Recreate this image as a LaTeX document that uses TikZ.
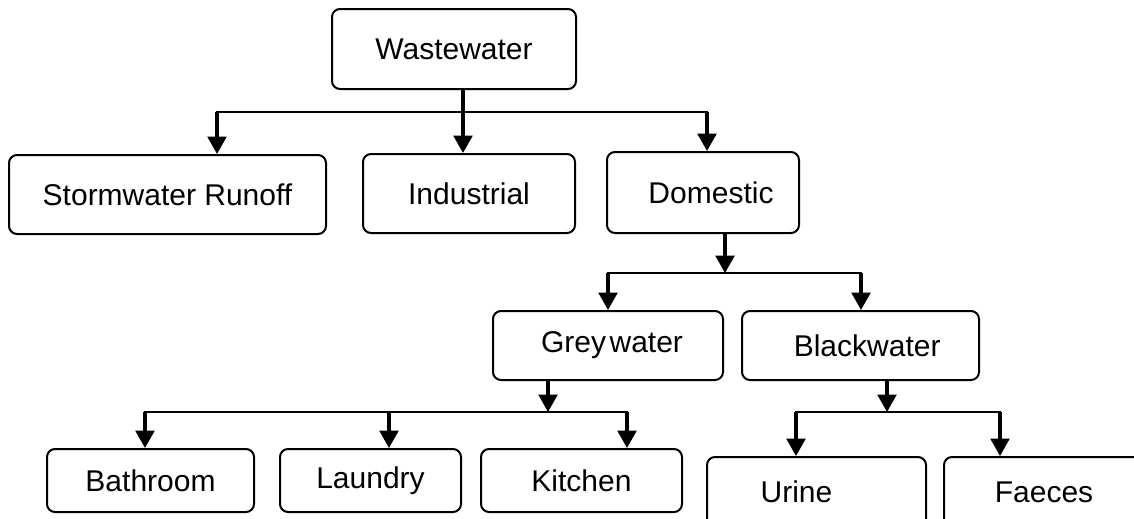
\documentclass[tikz,border=0pt]{standalone}
\usepackage{fontspec}
\setmainfont{Liberation Sans}
\usetikzlibrary{arrows.meta}

\tikzset{
  box/.style={draw, line width=1.5pt, rounded corners=6pt, inner sep=0pt,
    font=\fontsize{22.5}{27}\selectfont},
  arr/.style={line width=2.4pt, -{Triangle[length=13pt,width=14pt]}},
  bar/.style={line width=1.8pt, line cap=rect}
}

\begin{document}
\begin{tikzpicture}[x=0.75pt,y=0.75pt,yscale=-1,xscale=1]
        \useasboundingbox (0,0) rectangle (1134,518);
        \clip (0,0) rectangle (1134,518);

        %Boxes
        \node [box, minimum width=244*0.75pt, minimum height=80*0.75pt] (ww) at (454,49) {Wastewater};
        \node [box, minimum width=317*0.75pt, minimum height=79*0.75pt] (storm) at (167.5,194.5) {Stormwater Runoff};
        \node [box, minimum width=212*0.75pt, minimum height=79*0.75pt] (ind) at (469,193.5) {Industrial};
        \node [box, minimum width=192*0.75pt, minimum height=81*0.75pt] (dom) at (703,192.5) {\hspace*{12pt}Domestic};
        \node [box, minimum width=230*0.75pt, minimum height=69*0.75pt] (grey) at (608,345.5) {\hspace*{6pt}Grey\hspace{0.12em}water};
        \node [box, minimum width=237*0.75pt, minimum height=69*0.75pt] (black) at (860.5,345.5) {\hspace*{10pt}Blackwater};
        \node [box, minimum width=207*0.75pt, minimum height=63*0.75pt] (bath) at (150.5,480.5) {Bathroom};
        \node [box, minimum width=181*0.75pt, minimum height=63*0.75pt] (laund) at (370.5,480.5) {Laundry};
        \node [box, minimum width=201*0.75pt, minimum height=63*0.75pt] (kitch) at (581.5,480.5) {Kitchen};
        \node [box, minimum width=219*0.75pt, minimum height=70*0.75pt] (urine) at (816.5,492) {\hspace*{-30pt}Urine};
        \node [box, minimum width=216*0.75pt, minimum height=70*0.75pt] (faec) at (1052,492) {\hspace*{-12pt}Faeces};

        %Junctions
        \coordinate (t1) at (463,112);
        \coordinate (b1l) at (217,112);
        \coordinate (b1r) at (707,112);
        \coordinate (t2) at (725,273);
        \coordinate (b2l) at (608,273);
        \coordinate (b2r) at (861,273);
        \coordinate (t3) at (548,412);
        \coordinate (b3l) at (145,412);
        \coordinate (b3m) at (389,412);
        \coordinate (b3r) at (627,412);
        \coordinate (t4) at (887,412);
        \coordinate (b4l) at (796,412);
        \coordinate (b4r) at (1000,412);

        %Wastewater
        \draw [bar] (b1l) -- (b1r);
        \draw [arr] (t1 |- ww.south) -- (t1 |- ind.north);
        \draw [arr] (b1l) -- (b1l |- storm.north);
        \draw [arr] (b1r) -- (b1r |- dom.north);

        %Domestic
        \draw [bar] (b2l) -- (b2r);
        \draw [arr] (t2 |- dom.south) -- (t2);
        \draw [arr] (b2l) -- (b2l |- grey.north);
        \draw [arr] (b2r) -- (b2r |- black.north);

        %Greywater
        \draw [bar] (b3l) -- (b3r);
        \draw [arr] (t3 |- grey.south) -- (t3);
        \draw [arr] (b3l) -- (b3l |- bath.north);
        \draw [arr] (b3m) -- (b3m |- laund.north);
        \draw [arr] (b3r) -- (b3r |- kitch.north);

        %Blackwater
        \draw [bar] (b4l) -- (b4r);
        \draw [arr] (t4 |- black.south) -- (t4);
        \draw [arr] (b4l) -- (b4l |- urine.north);
        \draw [arr] (b4r) -- (b4r |- faec.north);

    \end{tikzpicture}
\end{document}
